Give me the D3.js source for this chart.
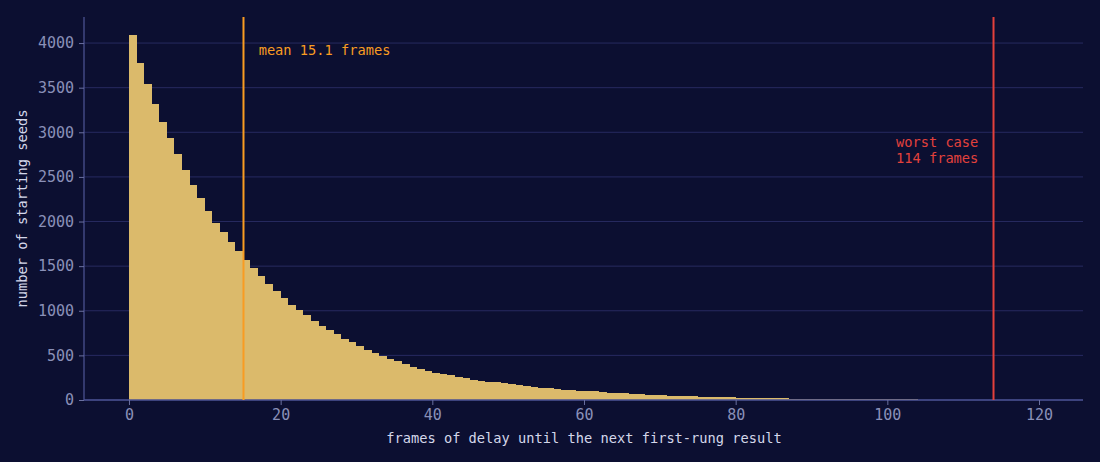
<!DOCTYPE html>
<html>
<head>
<meta charset="utf-8">
<script src="https://cdn.jsdelivr.net/npm/d3@7"></script>
<style>
  html, body { margin: 0; padding: 0; background: #0c0f31; }
  svg { display: block; }
  text { font-family: "DejaVu Sans Mono", monospace; }
</style>
</head>
<body>
<div id="chart"></div>
<script>
// frames of delay (bin start, width 1) and how many seeds landed in each bin
const frames = d3.range(0, 104);
const counts = [
  4090, 3776, 3541, 3317, 3115, 2936, 2756, 2577, 2409, 2263,
  2118, 1983, 1882, 1770, 1669, 1569, 1479, 1389, 1300, 1221,
  1143, 1064, 1008, 952, 885, 829, 784, 739, 683, 650,
  605, 560, 527, 493, 459, 437, 403, 370, 347, 325,
  303, 291, 280, 258, 246, 224, 213, 202, 200, 190,
  179, 168, 157, 146, 136, 132, 123, 114, 110, 103,
  99, 96, 90, 80, 77, 75, 68, 65, 58, 55,
  52, 47, 45, 43, 41, 39, 35, 33, 32, 30,
  28, 24, 23, 21, 20, 19, 18, 14, 13, 13,
  12, 12, 11, 11, 10, 10, 10, 9, 9, 9,
  8, 8, 8, 7
];
const xTicks = [0, 20, 40, 60, 80, 100, 120];
const yTicks = [0, 500, 1000, 1500, 2000, 2500, 3000, 3500, 4000];
const meanFrames = 15.1;
const worstFrames = 114;

const W = 1100, H = 462;
const margin = { top: 17, right: 17, bottom: 62, left: 84 };
const width = W - margin.left - margin.right,
      height = H - margin.top - margin.bottom;

const svg = d3.select("#chart").append("svg")
    .attr("width", W)
    .attr("height", H);

svg.append("rect").attr("width", W).attr("height", H).attr("fill", "#0c0f31");

const g = svg.append("g")
    .attr("transform", "translate(" + margin.left + "," + margin.top + ")");

const x = d3.scaleLinear().domain([-5.93, 125.8]).range([0, width]);
const y = d3.scaleLinear().domain([0, 4292]).range([height, 0]);

// horizontal grid
g.append("g")
    .selectAll("line")
    .data(yTicks)
    .enter().append("line")
    .attr("x1", 0).attr("x2", width)
    .attr("y1", d => y(d)).attr("y2", d => y(d))
    .attr("stroke", "#272a60")
    .attr("stroke-width", 1);

// histogram bars
g.append("g")
    .selectAll("rect")
    .data(frames)
    .enter().append("rect")
    .attr("x", d => x(d))
    .attr("width", d => x(d + 1) - x(d))
    .attr("y", (d, i) => y(counts[i]))
    .attr("height", (d, i) => y(0) - y(counts[i]))
    .attr("fill", "#dbba6b")
    .attr("shape-rendering", "crispEdges");

// axes
const xAxis = g.append("g")
    .attr("transform", "translate(0," + height + ")")
    .call(d3.axisBottom(x).tickValues(xTicks).tickFormat(d3.format("d"))
        .tickSize(5).tickSizeOuter(0).tickPadding(4));
const yAxis = g.append("g")
    .call(d3.axisLeft(y).tickValues(yTicks).tickFormat(d3.format("d"))
        .tickSize(5).tickSizeOuter(0).tickPadding(5));

[xAxis, yAxis].forEach(a => {
    a.select(".domain").attr("stroke", "#4a5190").attr("stroke-width", 1.3);
    a.selectAll(".tick line").attr("stroke", "#6a70a0");
    a.selectAll(".tick text")
        .attr("fill", "#8a90b8")
        .style("font-family", "'DejaVu Sans Mono', monospace")
        .style("font-size", "15px");
});
xAxis.select(".domain").attr("d", "M0,0H" + width);
yAxis.select(".domain").attr("d", "M0," + height + "V0");

// mean and worst-case markers
g.append("line")
    .attr("x1", x(meanFrames)).attr("x2", x(meanFrames))
    .attr("y1", 0).attr("y2", height)
    .attr("stroke", "#f99c22").attr("stroke-width", 2);
g.append("text")
    .attr("x", x(meanFrames + 2)).attr("y", 38)
    .attr("fill", "#f99c22")
    .style("font-size", "13.7px")
    .text("mean " + meanFrames + " frames");

g.append("line")
    .attr("x1", x(worstFrames)).attr("x2", x(worstFrames))
    .attr("y1", 0).attr("y2", height)
    .attr("stroke", "#e3413c").attr("stroke-width", 2);
const worst = g.append("text")
    .attr("x", x(worstFrames - 2)).attr("y", 130)
    .attr("fill", "#e3413c")
    .attr("text-anchor", "end")
    .style("font-size", "13.7px");
worst.append("tspan").attr("x", x(worstFrames - 2)).text("worst case");
worst.append("tspan").attr("x", x(worstFrames - 2)).attr("dy", 16).text(worstFrames + " frames");

// axis titles
svg.append("text")
    .attr("x", margin.left + x(60))
    .attr("y", 443)
    .attr("text-anchor", "middle")
    .attr("fill", "#d4d7ea")
    .style("font-size", "13.7px")
    .text("frames of delay until the next first-rung result");

svg.append("text")
    .attr("transform", "translate(27," + (margin.top + height / 2) + ") rotate(-90)")
    .attr("text-anchor", "middle")
    .attr("fill", "#d4d7ea")
    .style("font-size", "13.7px")
    .text("number of starting seeds");
</script>
</body>
</html>
